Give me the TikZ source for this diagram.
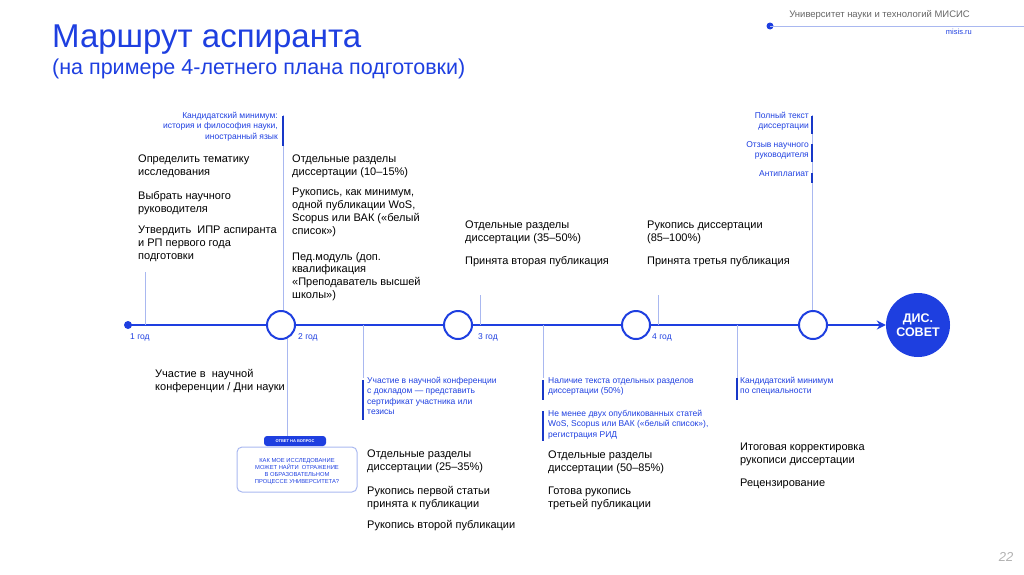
\documentclass[tikz,border=0pt]{standalone}
\usepackage{fontspec}
\setmainfont{Liberation Sans}
\usetikzlibrary{arrows.meta}
\definecolor{mblue}{HTML}{1E3FE0}
\definecolor{lblue}{HTML}{A9B8F0}
\definecolor{dblue}{HTML}{1838C8}
\tikzset{
 txt/.style={anchor=north west,align=left,font=\fontsize{11}{12.8}\selectfont,inner sep=0},
 small/.style={anchor=north west,align=left,font=\fontsize{8.5}{10.3}\selectfont,text=mblue,inner sep=0},
 smallr/.style={anchor=north east,align=right,font=\fontsize{8.5}{10.3}\selectfont,text=mblue,inner sep=0},
 thin/.style={draw=lblue,line width=0.8pt},
 bar/.style={draw=dblue,line width=1.6pt},
 yr/.style={circle,draw=mblue,line width=2pt,fill=white,minimum size=28pt,inner sep=0},
 yl/.style={anchor=west,font=\fontsize{8.5}{10}\selectfont,text=mblue,inner sep=0},
}
\begin{document}
\begin{tikzpicture}[x=1pt,y=-1pt]
\useasboundingbox (0,0) rectangle (1024,574);
% header
\node[anchor=west,text=mblue,font=\fontsize{33}{36}\selectfont,inner sep=0] (t1) at (52,40) {Маршрут аспиранта};
\node[anchor=west,text=mblue,font=\fontsize{21.5}{24}\selectfont,inner sep=0] (t2) at (52,69) {(на примере 4-летнего плана подготовки)};
\fill[mblue] (770,26) circle (3.5);
\coordinate (hd) at (770,26); \coordinate (he) at (1024,26);
\draw[lblue,line width=1pt] (hd) -- (he);
\node[anchor=east,text=gray!80!black,font=\fontsize{9.5}{11}\selectfont,inner sep=0] (uni) at (970,15) {Университет науки и технологий МИСИС};
\node[anchor=east,text=mblue,font=\fontsize{7.5}{9}\selectfont,inner sep=0] (ms) at (972,32) {misis.ru};
\node[text=gray!60,font=\itshape\fontsize{13}{15}\selectfont,inner sep=0] (pg) at (1006,557) {22};
% timeline
\coordinate (s) at (128,325);
\fill[mblue] (s) circle (4);
\node[circle,fill=mblue,minimum size=64pt,inner sep=0,text=white,align=center,font=\bfseries\fontsize{12.5}{14.5}\selectfont] (ds) at (918,325) {ДИС.\\СОВЕТ};
\draw[mblue,line width=2.4pt,-{Stealth[length=9pt,width=9pt]}] (s) -- (ds.west);
% vertical guides
\draw[thin] (145,272) -- (145,325);
\draw[thin] (283,115) -- (283,325);
\draw[thin] (480,295) -- (480,325);
\draw[thin] (658,295) -- (658,325);
\draw[thin] (812,115) -- (812,325);
\draw[thin] (287,325) -- (287,436);
\draw[thin] (363,325) -- (363,378);
\draw[thin] (543,325) -- (543,378);
\draw[thin] (737,325) -- (737,378);
\node[yr] (y2) at (281,325) {};
\node[yr] (y3) at (458,325) {};
\node[yr] (y4) at (636,325) {};
\node[yr] (y5) at (813,325) {};
\node[yl] at (130,337) {1 год};
\node[yl] at (298,337) {2 год};
\node[yl] at (478,337) {3 год};
\node[yl] at (652,337) {4 год};
% year 1
\node[smallr] (km) at (278,112) {Кандидатский минимум:\\история и философия науки,\\иностранный язык};
\draw[bar] (283,116) -- (283,146);
\node[txt] (a1) at (138,155) {Определить тематику\\исследования};
\node[txt] (a2) at (138,191) {Выбрать научного\\руководителя};
\node[txt] (a3) at (138,226) {Утвердить~ ИПР аспиранта\\и РП первого года\\подготовки};
\node[txt] (b1) at (155,369) {Участие в~ научной\\конференции / Дни науки};
% box
\draw[lblue,line width=1pt,rounded corners=5pt] (237,447) rectangle (357,492);
\node[fill=mblue,rounded corners=3pt,minimum width=62pt,minimum height=10pt,inner sep=0,text=white,font=\bfseries\fontsize{4}{5}\selectfont] (pill) at (295,441) {ОТВЕТ НА ВОПРОС};
\node[align=center,text=mblue,font=\fontsize{5.8}{7}\selectfont,inner sep=0] (bq) at (297,472) {КАК МОЕ ИССЛЕДОВАНИЕ\\МОЖЕТ НАЙТИ~ ОТРАЖЕНИЕ\\В ОБРАЗОВАТЕЛЬНОМ\\ПРОЦЕССЕ УНИВЕРСИТЕТА?};
% year 2
\node[txt] (c1) at (292,155) {Отдельные разделы\\диссертации (10–15\%)};
\node[txt] (c2) at (292,188) {Рукопись, как минимум,\\одной публикации WoS,\\Scopus или ВАК («белый\\список»)};
\node[txt] (c3) at (292,252) {Пед.модуль (доп.\\квалификация\\«Преподаватель высшей\\школы»)};
\node[small] (d1) at (367,377) {Участие в научной конференции\\с докладом — представить\\сертификат участника или\\тезисы};
\draw[bar] (363,380) -- (363,420);
\node[txt] (d2) at (367,450) {Отдельные разделы\\диссертации (25–35\%)};
\node[txt] (d3) at (367,486) {Рукопись первой статьи\\принята к публикации};
\node[txt] (d4) at (367,520) {Рукопись второй публикации};
% year 3
\node[txt] (e1) at (465,221) {Отдельные разделы\\диссертации (35–50\%)};
\node[txt] (e2) at (465,256) {Принята вторая публикация};
\node[small] (f1) at (548,377) {Наличие текста отдельных разделов\\диссертации (50\%)};
\draw[bar] (543,380) -- (543,400);
\node[small] (f2) at (548,410) {Не менее двух опубликованных статей\\WoS, Scopus или ВАК («белый список»),\\регистрация РИД};
\draw[bar] (543,411) -- (543,441);
\node[txt] (f3) at (548,451) {Отдельные разделы\\диссертации (50–85\%)};
\node[txt] (f4) at (548,487) {Готова рукопись\\третьей публикации};
% year 4
\node[txt] (g1) at (647,221) {Рукопись диссертации\\(85–100\%)};
\node[txt] (g2) at (647,256) {Принята третья публикация};
\node[smallr] (h1) at (809,112) {Полный текст\\диссертации};
\draw[bar] (812,116) -- (812,134);
\node[smallr] (h2) at (809,141) {Отзыв научного\\руководителя};
\draw[bar] (812,144) -- (812,162);
\node[smallr] (h3) at (809,170) {Антиплагиат};
\draw[bar] (812,173) -- (812,183);
\node[small] (k1) at (740,377) {Кандидатский минимум\\по специальности};
\draw[bar] (737,378) -- (737,400);
\node[txt] (k2) at (740,443) {Итоговая корректировка\\рукописи диссертации};
\node[txt] (k3) at (740,479) {Рецензирование};
\end{tikzpicture}
\end{document}
